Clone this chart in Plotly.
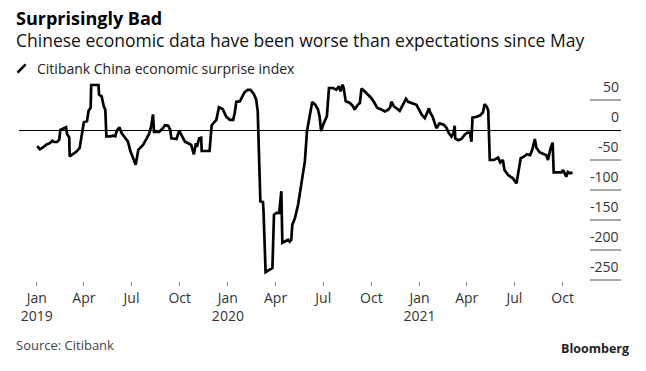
import plotly.graph_objects as go

dates_2019 = ["2019-01-02","2019-01-07","2019-01-13","2019-01-20","2019-01-26","2019-01-31","2019-02-03","2019-02-09","2019-02-13","2019-02-15","2019-02-20","2019-02-26","2019-02-28","2019-03-04","2019-03-05","2019-03-11","2019-03-18","2019-03-24","2019-03-29","2019-04-01","2019-04-07","2019-04-10","2019-04-14","2019-04-15","2019-04-29","2019-04-30","2019-05-05","2019-05-09","2019-05-12","2019-05-14","2019-05-22","2019-05-27","2019-05-31","2019-06-03","2019-06-08","2019-06-12","2019-06-18","2019-06-24","2019-06-29","2019-07-04","2019-07-09","2019-07-14","2019-07-23","2019-07-30","2019-08-04","2019-08-08","2019-08-11","2019-08-13","2019-08-23","2019-08-30","2019-09-03","2019-09-09","2019-09-13","2019-09-15","2019-09-25","2019-09-30","2019-10-04","2019-10-11","2019-10-17","2019-10-23","2019-10-28","2019-11-01","2019-11-03","2019-11-07","2019-11-11","2019-11-12","2019-11-27","2019-12-01","2019-12-10","2019-12-15","2019-12-22","2019-12-29"]
values_2019 = [-27,-32,-29,-24,-22,-18,-20,-20,-16,0,2,4.5,-7,-12,-44,-40,-36,-30,-1,13,14.5,32,37,75,75,59,56,39.5,34,-10.5,-10.5,-9.5,-10.5,-1,4.5,-5,-12,-19,-35.5,-45.5,-58,-33,-25,-14,-5.5,8,26,-3,-3,3,8,7,0,-14,-15,-1,-8,-19.5,-22,-25,-40.5,-22,-28,-14,-13,-35,-35,8,17,38,35,22]

dates_2020 = ["2020-01-05","2020-01-11","2020-01-14","2020-01-17","2020-01-24","2020-01-29","2020-02-02","2020-02-08","2020-02-13","2020-02-19","2020-02-24","2020-02-27","2020-02-29","2020-03-03","2020-03-08","2020-03-09","2020-03-13","2020-03-21","2020-03-26","2020-03-29","2020-04-03","2020-04-08","2020-04-12","2020-04-14","2020-04-22","2020-04-25","2020-04-28","2020-05-01","2020-05-03","2020-05-08","2020-05-14","2020-05-20","2020-05-27","2020-05-31","2020-06-05","2020-06-10","2020-06-16","2020-06-21","2020-06-24","2020-06-27","2020-07-01","2020-07-04","2020-07-08","2020-07-12","2020-07-20","2020-07-26","2020-07-31","2020-08-03","2020-08-07","2020-08-09","2020-08-13","2020-08-21","2020-08-27","2020-08-30","2020-09-05","2020-09-09","2020-09-12","2020-09-18","2020-09-24","2020-10-01","2020-10-07","2020-10-12","2020-10-20","2020-10-27","2020-11-02","2020-11-06","2020-11-08","2020-11-13","2020-11-19","2020-11-24","2020-11-30","2020-12-06","2020-12-10","2020-12-18","2020-12-26","2020-12-31"]
values_2020 = [17,17,28,47,48,58,63,67,67,61,51,31,-52,-119,-120,-135,-237,-233,-230,-141,-138,-138,-102,-188,-185,-183,-186,-183,-158,-147,-124.5,-91,-52,-2,25.5,46.7,42,34,23,-2,9,14.5,23,70,70,67,73,64.5,75.5,70,48,45,39.5,34,42,45,69,64.5,59,53,45,37,34,31,34,38,47,39.5,35.5,32,42,52,47,45,42,34]

dates_2021 = ["2021-01-05","2021-01-11","2021-01-15","2021-01-19","2021-01-21","2021-01-26","2021-02-02","2021-02-08","2021-02-16","2021-02-21","2021-02-26","2021-03-03","2021-03-07","2021-03-09","2021-03-10","2021-03-16","2021-03-22","2021-03-28","2021-04-02","2021-04-07","2021-04-10","2021-04-12","2021-04-20","2021-04-26","2021-05-02","2021-05-05","2021-05-09","2021-05-12","2021-05-15","2021-05-23","2021-05-31","2021-06-04","2021-06-09","2021-06-12","2021-06-19","2021-06-28","2021-07-05","2021-07-08","2021-07-13","2021-07-19","2021-07-25","2021-07-31","2021-08-04","2021-08-09","2021-08-12","2021-08-18","2021-08-25","2021-08-31","2021-09-03","2021-09-08","2021-09-12","2021-09-14","2021-09-22","2021-09-29","2021-10-02","2021-10-05","2021-10-08","2021-10-11","2021-10-15","2021-10-20"]
values_2021 = [25.5,20,28,36,29.5,22,3,11,9,4,-5.5,-11,-4,7,-14,-17,-15,-8,-4.5,-4,-19.5,20.5,22,24,29.5,43,39,33,-50,-50,-46,-54,-50,-66.7,-75,-80.5,-89,-72,-47,-44.5,-40.5,-42,-33,-15,-29.5,-37,-39,-42,-50,-30.5,-21,-70.5,-70.5,-70.5,-66.7,-72,-78,-70,-72,-71]

x_tick_vals = ["2019-01-01","2019-04-01","2019-07-01","2019-10-01","2020-01-01","2020-04-01","2020-07-01","2020-10-01","2021-01-01","2021-04-01","2021-07-01","2021-10-01"]
x_tick_text = ["Jan<br>2019","Apr","Jul","Oct","Jan<br>2020","Apr","Jul","Oct","Jan<br>2021","Apr","Jul","Oct"]
y_tick_vals = [50, 0, -50, -100, -150, -200, -250]
y_tick_text = ["50", "0", "-50", "-100", "-150", "-200", "-250"]

title = "Surprisingly Bad"
subtitle = "Chinese economic data have been worse than expectations since May"
series_name = "Citibank China economic surprise index"
source = "Source: Citibank"

dates = dates_2019 + dates_2020 + dates_2021
values = values_2019 + values_2020 + values_2021

FONT = "Open Sans, Noto Sans, sans-serif"

fig = go.Figure()
fig.add_trace(go.Scatter(x=dates, y=values, mode="lines", name=series_name,
                         line=dict(color="#000000", width=2.7), showlegend=False,
                         hoverinfo="skip"))

# short right-side gridlines
shapes = []
for v in y_tick_vals:
    if v == 0:
        continue
    shapes.append(dict(type="line", xref="paper", yref="y", x0=0.9485, x1=1.0, y0=v, y1=v,
                       line=dict(color="#555555", width=1), layer="below"))
# legend icon
shapes.append(dict(type="line", xref="paper", yref="paper", x0=-0.0025, y0=1.031, x1=0.0110, y1=1.072,
                   line=dict(color="#000000", width=2.5)))

annotations = []
for v, t in zip(y_tick_vals, y_tick_text):
    annotations.append(dict(x=1.0, xref="paper", y=v, yref="y", text=t, showarrow=False,
                            xanchor="right", yanchor="middle", yshift=14,
                            font=dict(family=FONT, size=14, color="#333333")))

annotations += [
    dict(x=-0.008, y=1.30, xref="paper", yref="paper", text="<b>" + title + "</b>", showarrow=False,
         xanchor="left", yanchor="middle", font=dict(family=FONT, size=18, color="#000000")),
    dict(x=-0.009, y=1.195, xref="paper", yref="paper", text=subtitle, showarrow=False,
         xanchor="left", yanchor="middle", font=dict(family=FONT, size=17.5, color="#111111")),
    dict(x=0.027, y=1.052, xref="paper", yref="paper", text=series_name, showarrow=False,
         xanchor="left", yanchor="middle", font=dict(family=FONT, size=14, color="#222222")),
    dict(x=-0.008, y=-0.315, xref="paper", yref="paper", text=source, showarrow=False,
         xanchor="left", yanchor="middle", font=dict(family=FONT, size=13, color="#444444")),
    dict(x=1.016, y=-0.335, xref="paper", yref="paper", text="<b>Bloomberg</b>", showarrow=False,
         xanchor="right", yanchor="middle", font=dict(family=FONT, size=12.5, color="#222222")),
]

fig.update_layout(
    width=646, height=371,
    margin=dict(l=19, r=25, t=79, b=90),
    paper_bgcolor="white", plot_bgcolor="white",
    xaxis=dict(type="date", range=["2018-11-28 05:00", "2022-01-20 12:00"],
               tickvals=x_tick_vals, ticktext=x_tick_text, ticks="outside", ticklen=4,
               tickcolor="#888888", tickwidth=1, showgrid=False, zeroline=False, showline=False,
               tickfont=dict(family=FONT, size=14, color="#333333")),
    yaxis=dict(range=[-251.67, 85], showgrid=False, showticklabels=False, ticks="",
               zeroline=True, zerolinecolor="#000000", zerolinewidth=1, showline=False),
    shapes=shapes, annotations=annotations,
)

# remove the default 8px page margin so the 646x371 figure fills the window exactly
fig.write_html("out.html", config={"displayModeBar": False},
               post_script="document.body.style.margin='0px';")
